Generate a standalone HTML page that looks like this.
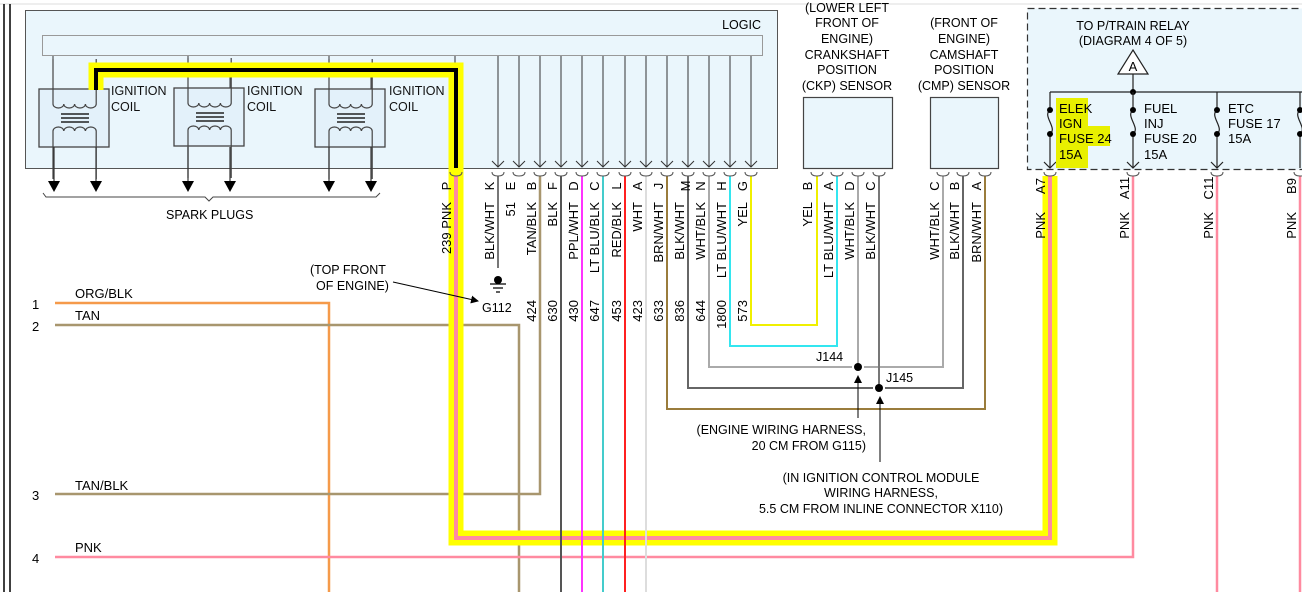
<!DOCTYPE html>
<html><head><meta charset="utf-8"><style>
html,body{margin:0;padding:0;background:#fff;width:1302px;height:592px;overflow:hidden}
svg{display:block;font-family:"Liberation Sans",Arial,sans-serif;font-size:12.5px}
</style></head><body>
<svg width="1302" height="592" viewBox="0 0 1302 592" xmlns="http://www.w3.org/2000/svg">
<defs>
<g id="coil">
 <rect x="0" y="0" width="70" height="58" fill="#e3f1fa" stroke="#444" stroke-width="1.3"/>
 <path d="M14,-30 V15 a5.4,4 0 0 0 10.8,0 a5.4,4 0 0 0 10.8,0 a5.4,4 0 0 0 10.8,0 a5.4,4 0 0 0 10.8,0 V-30" fill="none" stroke="#444" stroke-width="1.2"/>
 <path d="M14,90 V42 a5.4,4 0 0 1 10.8,0 a5.4,4 0 0 1 10.8,0 a5.4,4 0 0 1 10.8,0 a5.4,4 0 0 1 10.8,0 V90" fill="none" stroke="#444" stroke-width="1.2"/>
 <path d="M22,25 H50 M22,29 H50 M22,33 H50" stroke="#222" stroke-width="1.4"/>
</g>
<g id="chev"><path d="M-6,-6 L0,0 L6,-6" fill="none" stroke="#333" stroke-width="1"/></g>
<g id="cup"><path d="M-6,0 Q-6,4 0,4 Q6,4 6,0" fill="none" stroke="#555" stroke-width="1"/></g>
<marker id="ah" markerWidth="8" markerHeight="8" refX="7" refY="4" orient="auto"><path d="M0,0 L8,4 L0,8 z" fill="#000"/></marker>
</defs>
<line x1="0" y1="4" x2="1302" y2="4" stroke="#ddd" stroke-width="1"/>
<line x1="4" y1="4" x2="4" y2="592" stroke="#000" stroke-width="1.5"/>
<line x1="10" y1="4" x2="10" y2="592" stroke="#000" stroke-width="1.5"/>

<rect x="25.5" y="10.5" width="752" height="158" fill="#eaf6fc" stroke="#555" stroke-width="1"/>
<text x="761" y="29" text-anchor="end">LOGIC</text>
<rect x="42.5" y="35.5" width="720" height="20" fill="#eaf6fc" stroke="#999" stroke-width="1"/>
<g stroke="#333" stroke-width="1">
<line x1="498" y1="56" x2="498" y2="167"/><line x1="519" y1="56" x2="519" y2="167"/><line x1="540" y1="56" x2="540" y2="167"/><line x1="561" y1="56" x2="561" y2="167"/><line x1="582" y1="56" x2="582" y2="167"/><line x1="603" y1="56" x2="603" y2="167"/><line x1="625" y1="56" x2="625" y2="167"/><line x1="646" y1="56" x2="646" y2="167"/><line x1="667" y1="56" x2="667" y2="167"/><line x1="688" y1="56" x2="688" y2="167"/><line x1="709" y1="56" x2="709" y2="167"/><line x1="730" y1="56" x2="730" y2="167"/><line x1="751" y1="56" x2="751" y2="167"/>
<line x1="455" y1="56" x2="455" y2="68"/>
<line x1="188" y1="56" x2="188" y2="90"/><line x1="329" y1="56" x2="329" y2="90"/><line x1="53" y1="56" x2="53" y2="90"/>
<line x1="230" y1="70" x2="230" y2="90"/><line x1="371" y1="70" x2="371" y2="90"/>
</g>
<g>
<use href="#chev" x="498" y="167"/><use href="#chev" x="519" y="167"/><use href="#chev" x="540" y="167"/><use href="#chev" x="561" y="167"/><use href="#chev" x="582" y="167"/><use href="#chev" x="603" y="167"/><use href="#chev" x="625" y="167"/><use href="#chev" x="646" y="167"/><use href="#chev" x="667" y="167"/><use href="#chev" x="688" y="167"/><use href="#chev" x="709" y="167"/><use href="#chev" x="730" y="167"/><use href="#chev" x="751" y="167"/>
</g>

<use href="#coil" x="39" y="89"/>
<use href="#coil" x="174" y="88"/>
<use href="#coil" x="315" y="89"/>
<g fill="#111">
<text x="111" y="95">IGNITION</text><text x="111" y="111">COIL</text>
<text x="247" y="95">IGNITION</text><text x="247" y="111">COIL</text>
<text x="389" y="95">IGNITION</text><text x="389" y="111">COIL</text>
</g>
<g stroke="#333" stroke-width="1.2">
<line x1="54" y1="147" x2="54" y2="182"/><line x1="96" y1="147" x2="96" y2="182"/><line x1="188" y1="147" x2="188" y2="182"/><line x1="230" y1="147" x2="230" y2="182"/><line x1="329" y1="147" x2="329" y2="182"/><line x1="371" y1="147" x2="371" y2="182"/>
</g>
<g fill="#000">
<path d="M48,181 H60 L54,192 z"/><path d="M90,181 H102 L96,192 z"/><path d="M182,181 H194 L188,192 z"/><path d="M224,181 H236 L230,192 z"/><path d="M323,181 H335 L329,192 z"/><path d="M365,181 H377 L371,192 z"/>
</g>
<path d="M43,193 L46,197 H205 L209,201 L213,197 H376 L380,193" fill="none" stroke="#444" stroke-width="1"/>
<text x="166" y="219">SPARK PLUGS</text>

<g fill="none" stroke-width="2.5">
<path d="M55,303 H329 V592" stroke="#f59a4a"/>
<path d="M55,325 H519 V592" stroke="#a8966e"/>
<path d="M55,494 H540 V176" stroke="#a8966e"/>
<path d="M55,557 H1133 V176" stroke="#ff8aa0"/>
<path d="M1217,176 V592" stroke="#ff8aa0"/>
<path d="M1300,176 V592" stroke="#ff8aa0"/>
</g>
<g font-size="13">
<text x="32" y="309">1</text><text x="75" y="298">ORG/BLK</text>
<text x="32" y="331">2</text><text x="75" y="320">TAN</text>
<text x="32" y="500">3</text><text x="75" y="490">TAN/BLK</text>
<text x="32" y="563">4</text><text x="75" y="552">PNK</text>
</g>

<path d="M96,90 V70 H456 V538 H1050 V176" fill="none" stroke="#ffff00" stroke-width="15"/>
<path d="M96,90 V70 H456 V168" fill="none" stroke="#000" stroke-width="4"/>
<path d="M456,176 V538 H1050 V176" fill="none" stroke="#ff8aa0" stroke-width="4"/>

<g fill="none" stroke-width="2">
<path d="M498,176 V268" stroke="#777"/>
<path d="M561,176 V592" stroke="#555"/>
<path d="M582,176 V592" stroke="#ff33ff"/>
<path d="M603,176 V592" stroke="#44cccc"/>
<path d="M625,176 V592" stroke="#ff2020"/>
<path d="M646,176 V592" stroke="#dddddd"/>
<path d="M667,176 V409 H985 V176" stroke="#9a7c3c"/>
<path d="M688,176 V388 H873 M885,388 H963 V176" stroke="#666"/>
<path d="M709,176 V367 H852 M864,367 H943 V176" stroke="#aaa"/>
<path d="M730,176 V346 H837 V176" stroke="#33e6f0"/>
<path d="M751,176 V325 H817 V176" stroke="#f0f000"/>
<path d="M858,176 V367" stroke="#aaa"/>
<path d="M879,176 V388" stroke="#777"/>
</g>
<g>
<use href="#cup" x="456" y="172"/><use href="#cup" x="498" y="172"/><use href="#cup" x="519" y="172"/><use href="#cup" x="540" y="172"/><use href="#cup" x="561" y="172"/><use href="#cup" x="582" y="172"/><use href="#cup" x="603" y="172"/><use href="#cup" x="625" y="172"/><use href="#cup" x="646" y="172"/><use href="#cup" x="667" y="172"/><use href="#cup" x="688" y="172"/><use href="#cup" x="709" y="172"/><use href="#cup" x="730" y="172"/><use href="#cup" x="751" y="172"/>
<use href="#cup" x="817" y="172"/><use href="#cup" x="837" y="172"/><use href="#cup" x="858" y="172"/><use href="#cup" x="879" y="172"/>
<use href="#cup" x="943" y="172"/><use href="#cup" x="963" y="172"/><use href="#cup" x="985" y="172"/>
<use href="#cup" x="1050" y="172"/><use href="#cup" x="1133" y="172"/><use href="#cup" x="1217" y="172"/><use href="#cup" x="1300" y="172"/>
</g>

<circle cx="498" cy="280" r="4" fill="#000"/>
<path d="M490,284 H506 M493,288 H503 M496,292 H500" stroke="#000" stroke-width="1.2"/>
<text x="482" y="312">G112</text>
<text x="310" y="274">(TOP FRONT</text><text x="316" y="290">OF ENGINE)</text>
<line x1="393" y1="282" x2="478" y2="301" stroke="#000" stroke-width="1" marker-end="url(#ah)"/>

<g font-size="13">
<g text-anchor="middle">
<text transform="translate(451,186) rotate(-90)">P</text>
<text transform="translate(494,186) rotate(-90)">K</text>
<text transform="translate(515,186) rotate(-90)">E</text>
<text transform="translate(536,186) rotate(-90)">B</text>
<text transform="translate(557,186) rotate(-90)">F</text>
<text transform="translate(578,186) rotate(-90)">D</text>
<text transform="translate(599,186) rotate(-90)">C</text>
<text transform="translate(621,186) rotate(-90)">L</text>
<text transform="translate(642,186) rotate(-90)">A</text>
<text transform="translate(663,186) rotate(-90)">J</text>
<text transform="translate(690,186) rotate(-90)">M</text>
<text transform="translate(705,186) rotate(-90)">N</text>
<text transform="translate(726,186) rotate(-90)">H</text>
<text transform="translate(747,186) rotate(-90)">G</text>
<text transform="translate(812,186) rotate(-90)">B</text>
<text transform="translate(833,186) rotate(-90)">A</text>
<text transform="translate(854,186) rotate(-90)">D</text>
<text transform="translate(875,186) rotate(-90)">C</text>
<text transform="translate(939,186) rotate(-90)">C</text>
<text transform="translate(959,186) rotate(-90)">B</text>
<text transform="translate(981,186) rotate(-90)">A</text>
<text transform="translate(1045,186) rotate(-90)">A7</text>
<text transform="translate(1129,188) rotate(-90)">A11</text>
<text transform="translate(1213,188) rotate(-90)">C11</text>
<text transform="translate(1296,186) rotate(-90)">B9</text>
</g>
<g text-anchor="end">
<text transform="translate(451,202) rotate(-90)">239  PNK</text>
<text transform="translate(494,202) rotate(-90)">BLK/WHT</text>
<text transform="translate(515,202) rotate(-90)">51</text>
<text transform="translate(536,202) rotate(-90)">TAN/BLK</text>
<text transform="translate(557,202) rotate(-90)">BLK</text>
<text transform="translate(578,202) rotate(-90)">PPL/WHT</text>
<text transform="translate(599,202) rotate(-90)">LT BLU/BLK</text>
<text transform="translate(621,202) rotate(-90)">RED/BLK</text>
<text transform="translate(642,202) rotate(-90)">WHT</text>
<text transform="translate(663,202) rotate(-90)">BRN/WHT</text>
<text transform="translate(684,202) rotate(-90)">BLK/WHT</text>
<text transform="translate(705,202) rotate(-90)">WHT/BLK</text>
<text transform="translate(726,202) rotate(-90)">LT BLU/WHT</text>
<text transform="translate(747,202) rotate(-90)">YEL</text>
<text transform="translate(812,202) rotate(-90)">YEL</text>
<text transform="translate(833,202) rotate(-90)">LT BLU/WHT</text>
<text transform="translate(854,202) rotate(-90)">WHT/BLK</text>
<text transform="translate(875,202) rotate(-90)">BLK/WHT</text>
<text transform="translate(939,202) rotate(-90)">WHT/BLK</text>
<text transform="translate(959,202) rotate(-90)">BLK/WHT</text>
<text transform="translate(981,202) rotate(-90)">BRN/WHT</text>
<text transform="translate(1045,212) rotate(-90)">PNK</text>
<text transform="translate(1129,212) rotate(-90)">PNK</text>
<text transform="translate(1213,212) rotate(-90)">PNK</text>
<text transform="translate(1296,212) rotate(-90)">PNK</text>
</g>
<g text-anchor="end">
<text transform="translate(536,300) rotate(-90)">424</text>
<text transform="translate(557,300) rotate(-90)">630</text>
<text transform="translate(578,300) rotate(-90)">430</text>
<text transform="translate(599,300) rotate(-90)">647</text>
<text transform="translate(621,300) rotate(-90)">453</text>
<text transform="translate(642,300) rotate(-90)">423</text>
<text transform="translate(663,300) rotate(-90)">633</text>
<text transform="translate(684,300) rotate(-90)">836</text>
<text transform="translate(705,300) rotate(-90)">644</text>
<text transform="translate(726,300) rotate(-90)">1800</text>
<text transform="translate(747,300) rotate(-90)">573</text>
</g>
</g>

<g text-anchor="middle">
<text x="847" y="12">(LOWER LEFT</text><text x="847" y="27">FRONT OF</text><text x="847" y="43">ENGINE)</text><text x="847" y="59">CRANKSHAFT</text><text x="847" y="74">POSITION</text><text x="847" y="90">(CKP) SENSOR</text>
<text x="964" y="27">(FRONT OF</text><text x="964" y="43">ENGINE)</text><text x="964" y="59">CAMSHAFT</text><text x="964" y="74">POSITION</text><text x="964" y="90">(CMP) SENSOR</text>
</g>
<rect x="803.5" y="97.5" width="89" height="71" fill="#eaf6fc" stroke="#444" stroke-width="1.2"/>
<rect x="930.5" y="97.5" width="68" height="71" fill="#eaf6fc" stroke="#444" stroke-width="1.2"/>

<circle cx="858" cy="367" r="4" fill="#000"/>
<circle cx="879" cy="388" r="4" fill="#000"/>
<text x="816" y="361">J144</text>
<text x="886" y="382">J145</text>
<line x1="858" y1="418" x2="858" y2="376" stroke="#000" stroke-width="1" marker-end="url(#ah)"/>
<line x1="880" y1="462" x2="880" y2="397" stroke="#000" stroke-width="1" marker-end="url(#ah)"/>
<g text-anchor="end">
<text x="866" y="434">(ENGINE WIRING HARNESS,</text>
<text x="866" y="450">20 CM FROM G115)</text>
</g>
<g text-anchor="middle">
<text x="881" y="482">(IN IGNITION CONTROL MODULE</text>
<text x="881" y="497">WIRING HARNESS,</text>
<text x="881" y="513">5.5 CM FROM INLINE CONNECTOR X110)</text>
</g>

<rect x="1027.5" y="8.5" width="290" height="161" fill="#eaf6fc" stroke="#333" stroke-width="1.2" stroke-dasharray="7,4"/>
<g text-anchor="middle"><text x="1133" y="30">TO P/TRAIN RELAY</text><text x="1133" y="45">(DIAGRAM 4 OF 5)</text></g>
<path d="M1133,50 L1148,74 H1118 z" fill="#fff" stroke="#222" stroke-width="1.2"/>
<text x="1133" y="71" text-anchor="middle" font-size="13">A</text>
<path d="M1133,74 V92 M1050,92 H1302" stroke="#222" stroke-width="1.2"/>
<circle cx="1133" cy="92" r="3" fill="#000"/>
<path d="M1050,92 V108 M1050,136 V168 M1133,92 V108 M1133,136 V168 M1217,92 V108 M1217,136 V168 M1300,92 V108 M1300,136 V168" stroke="#222" stroke-width="1.2"/>
<g fill="none" stroke="#222" stroke-width="1.2">
<path d="M1050,110 C1042,116 1058,128 1050,134"/><path d="M1133,110 C1125,116 1141,128 1133,134"/><path d="M1217,110 C1209,116 1225,128 1217,134"/><path d="M1300,110 C1292,116 1308,128 1300,134"/>
<path d="M1044,162 L1050,168 L1056,162 M1127,162 L1133,168 L1139,162 M1211,162 L1217,168 L1223,162"/>
</g>
<g fill="#000"><circle cx="1050" cy="110" r="3"/><circle cx="1050" cy="134" r="3"/><circle cx="1133" cy="110" r="3"/><circle cx="1133" cy="134" r="3"/><circle cx="1217" cy="110" r="3"/><circle cx="1217" cy="134" r="3"/><circle cx="1300" cy="110" r="3"/><circle cx="1300" cy="134" r="3"/></g>
<path d="M1056,98 H1088 V126 H1110 V146 H1088 V168 H1056 z" fill="#e8f000"/>
<g font-size="13">
<text x="1059" y="113">ELEK</text><text x="1059" y="128">IGN</text><text x="1059" y="143">FUSE 24</text><text x="1059" y="159">15A</text>
<text x="1144" y="113">FUEL</text><text x="1144" y="128">INJ</text><text x="1144" y="143">FUSE 20</text><text x="1144" y="159">15A</text>
<text x="1228" y="113">ETC</text><text x="1228" y="128">FUSE 17</text><text x="1228" y="143">15A</text>
</g>
</svg>
</body></html>
